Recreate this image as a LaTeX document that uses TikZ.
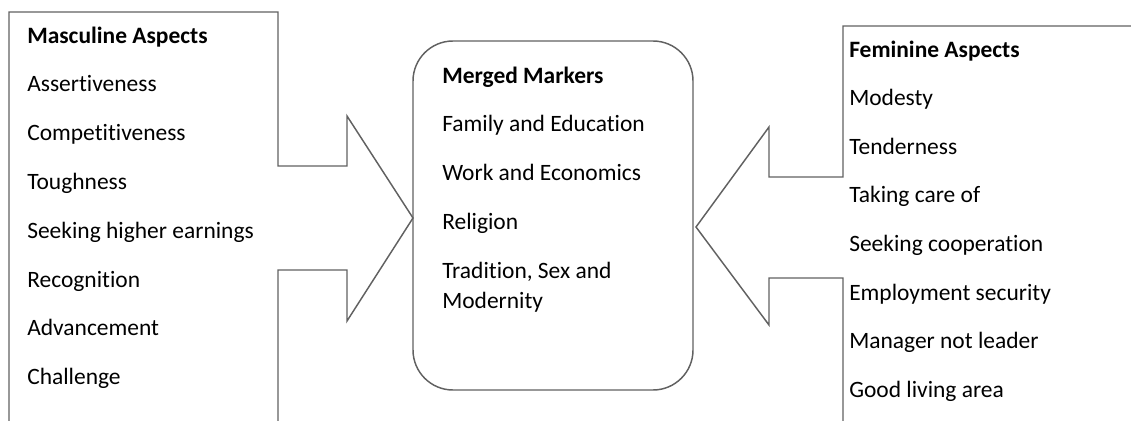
\documentclass[tikz,border=0pt]{standalone}
\usepackage{fontspec}
\setmainfont{Carlito}[Ligatures=NoCommon]
\usetikzlibrary{positioning}

\begin{document}
\begin{tikzpicture}[x=0.75pt,y=-0.75pt,
  outline/.style={draw=black!62,line width=1.1pt,line join=miter},
  item/.style={anchor=base west,inner sep=0pt,align=left,font=\fontsize{17.6}{22.5}\selectfont},
  head/.style={item,font=\fontsize{17.6}{22.5}\selectfont\bfseries}]
\useasboundingbox (0,0) rectangle (1131,421);
\clip (0,0) rectangle (1131,421);
% masculine side: open box with an arrow to the right
\draw[outline] (9,430) -- (9,12) -- (278,12) -- (278,166) -- (347,166) -- (347,116)
  -- (413,218) -- (347,321) -- (347,270) -- (278,270) -- (278,430);
% feminine side: open box with an arrow to the left
\draw[outline] (1140,26) -- (843,26) -- (843,177) -- (769,177) -- (769,127)
  -- (696,227) -- (769,325) -- (769,278) -- (843,278) -- (843,430);
% merged markers in the middle
\draw[outline,rounded corners=30pt] (413,41) rectangle (693,390);

\node[head] (masc) at (27,43) {Masculine Aspects};
\foreach \t [count=\i] in {Assertiveness,Competitiveness,Toughness,Seeking higher earnings,
  Recognition,Advancement,Challenge}
  \node[item] (masc-\i) at (27,{43+48.8*\i}) {\t};

\node[head] (merged) at (442,83) {Merged Markers};
\foreach \t [count=\i] in {Family and Education,Work and Economics,Religion}
  \node[item] (merged-\i) at (442,{83+48.8*\i}) {\t};
% two lines: base sits on the last one
\node[item] (merged-4) at (442,308.5) {Tradition, Sex and\\Modernity};

\node[head] (fem) at (849,57) {Feminine Aspects};
\foreach \t [count=\i] in {Modesty,Tenderness,Taking care of,Seeking cooperation,
  Employment security,Manager not leader,Good living area}
  \node[item] (fem-\i) at (849,{57+48.6*\i}) {\t};
\end{tikzpicture}
\end{document}
